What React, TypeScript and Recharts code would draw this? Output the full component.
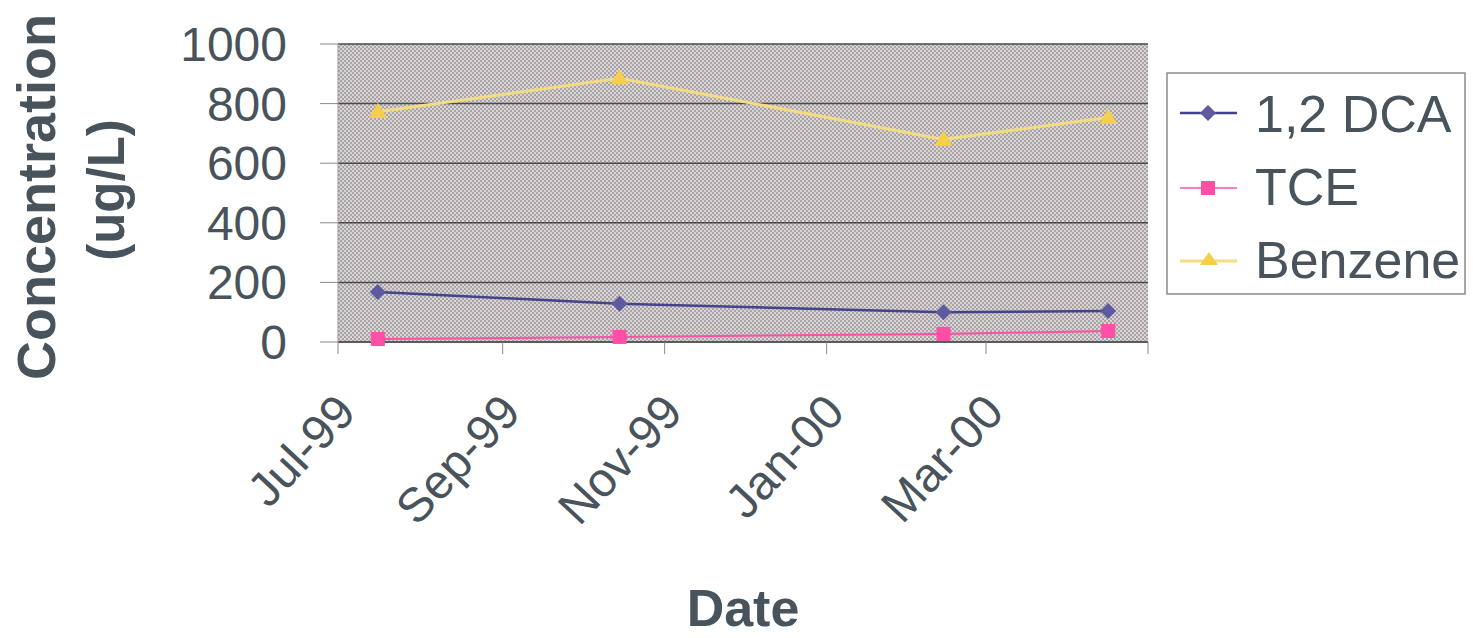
import React from 'react';
import { LineChart, Line, XAxis, YAxis, CartesianGrid, Label } from 'recharts';

const sampleDates = ['1999-07-16', '1999-10-15', '2000-02-14', '2000-04-16'];
const dca = [168, 128, 100, 104];
const tce = [10, 17, 27, 37];
const benzene = [773, 885, 680, 753];

const tickDates = ['1999-07-01', '1999-09-01', '1999-11-01', '2000-01-01', '2000-03-01', '2000-05-01'];
const tickLabels = ['Jul-99', 'Sep-99', 'Nov-99', 'Jan-00', 'Mar-00', ''];
const yTicks = [0, 200, 400, 600, 800, 1000];

const seriesNames = ['1,2 DCA', 'TCE', 'Benzene'];

const ts = (d: string) => new Date(d + 'T00:00:00Z').getTime();

const chartData = sampleDates.map((d, i) => ({
  date: ts(d),
  dca: dca[i],
  tce: tce[i],
  benzene: benzene[i],
}));

const xTicks = tickDates.map(ts);
const labelFor = (v: number) => tickLabels[xTicks.indexOf(v)] ?? '';

const FONT = '"Liberation Sans", Arial, sans-serif';
const TEXT = '#48535c';

const C_DCA = '#44428a';
const C_DCA_DOT = '#5d5aa0';
const C_TCE = '#ff4fa6';
const C_BENZ = '#f3dc82';
const C_BENZ_DOT = '#f6cf4a';

const Diamond = (props: any) => {
  const { cx, cy } = props;
  if (cx == null || cy == null) return null;
  const r = 8;
  return <polygon points={`${cx},${cy - r} ${cx + r},${cy} ${cx},${cy + r} ${cx - r},${cy}`} fill={C_DCA_DOT} />;
};

const Square = (props: any) => {
  const { cx, cy } = props;
  if (cx == null || cy == null) return null;
  return <rect x={cx - 7} y={cy - 7} width={14} height={14} fill={C_TCE} />;
};

const Triangle = (props: any) => {
  const { cx, cy } = props;
  if (cx == null || cy == null) return null;
  const r = 9;
  return <polygon points={`${cx},${cy - r} ${cx + r},${cy + r * 0.7} ${cx - r},${cy + r * 0.7}`} fill={C_BENZ_DOT} />;
};

const DateTick = (props: any) => {
  const { x, y, payload } = props;
  return (
    <text
      x={0}
      y={0}
      transform={`translate(${x + 20}, ${y + 58}) rotate(-47)`}
      textAnchor="end"
      fontFamily={FONT}
      fontSize={48}
      fill={TEXT}
    >
      {labelFor(payload.value)}
    </text>
  );
};

const YTitle = (props: any) => {
  const vb = props.viewBox || {};
  const cy = (vb.y ?? 44) + (vb.height ?? 298) / 2;
  return (
    <g fontFamily={FONT} fontWeight="bold" fill={TEXT} textAnchor="middle">
      <text fontSize={54} transform={`translate(55, ${cy + 4}) rotate(-90)`}>Concentration</text>
      <text fontSize={51} transform={`translate(124, ${cy - 3}) rotate(-90)`}>(ug/L)</text>
    </g>
  );
};

const LegendBox = () => (
  <svg width={300} height={224} style={{ position: 'absolute', left: 1166, top: 72 }}>
    <rect x={1} y={1} width={298} height={221} fill="#fff" stroke="#8a8a8a" strokeWidth={1.5} />
    <g>
      <line x1={14} y1={41} x2={71} y2={41} stroke={C_DCA} strokeWidth={2.5} />
      <polygon points="42,33 50,41 42,49 34,41" fill={C_DCA_DOT} />
      <line x1={14} y1={116} x2={71} y2={116} stroke={C_TCE} strokeWidth={1.5} />
      <rect x={35} y={109} width={14} height={14} fill={C_TCE} />
      <line x1={14} y1={189} x2={71} y2={189} stroke={C_BENZ} strokeWidth={3} />
      <polygon points="43,180 52,193 34,193" fill={C_BENZ_DOT} />
    </g>
    <g fontFamily={FONT} fontSize={52} fill={TEXT}>
      {seriesNames.map((name, i) => (
        <text key={name} x={89} y={60 + i * 73}>
          {name}
        </text>
      ))}
    </g>
  </svg>
);

export default function App() {
  return (
    <div style={{ position: 'absolute', left: 0, top: 0, width: 1473, height: 638, background: '#fff' }}>
      <LineChart width={1473} height={638} data={chartData} margin={{ top: 44, right: 325, bottom: 0, left: 0 }}>
        <defs>
          <pattern id="hatch" width={4} height={4} patternUnits="userSpaceOnUse">
            <rect width={4} height={4} fill="#d8d4d5" />
            <rect x={0} y={0} width={2} height={2} fill="#aaa4a6" />
            <rect x={2} y={2} width={2} height={2} fill="#aaa4a6" />
          </pattern>
        </defs>
        <CartesianGrid vertical={false} fill="url(#hatch)" fillOpacity={1} stroke="#4a4a4a" strokeWidth={1.5} />
        <XAxis
          dataKey="date"
          type="number"
          scale="time"
          domain={[xTicks[0], xTicks[xTicks.length - 1]]}
          ticks={xTicks}
          height={296}
          tickSize={12}
          tickLine={{ stroke: '#8a8a8a' }}
          axisLine={{ stroke: '#555', strokeWidth: 1.5 }}
          tick={<DateTick />}
          interval={0}
        >
          <Label
            value="Date"
            position="insideBottom"
            offset={12}
            style={{ fontFamily: FONT, fontSize: 52, fontWeight: 'bold', fill: TEXT }}
          />
        </XAxis>
        <YAxis
          type="number"
          domain={[0, 1000]}
          ticks={yTicks}
          width={338}
          tickSize={18}
          tickMargin={33}
          tickLine={{ stroke: '#8a8a8a' }}
          axisLine={{ stroke: '#9a9a9a' }}
          tick={{ fontFamily: FONT, fontSize: 48, fill: TEXT }}
          interval={0}
        >
          <Label content={<YTitle />} />
        </YAxis>
        <Line dataKey="dca" name={seriesNames[0]} stroke={C_DCA} strokeWidth={2.5} dot={<Diamond />} activeDot={false} isAnimationActive={false} />
        <Line dataKey="tce" name={seriesNames[1]} stroke={C_TCE} strokeWidth={2} dot={<Square />} activeDot={false} isAnimationActive={false} />
        <Line dataKey="benzene" name={seriesNames[2]} stroke={C_BENZ} strokeWidth={3} dot={<Triangle />} activeDot={false} isAnimationActive={false} />
      </LineChart>
      <LegendBox />
    </div>
  );
}
